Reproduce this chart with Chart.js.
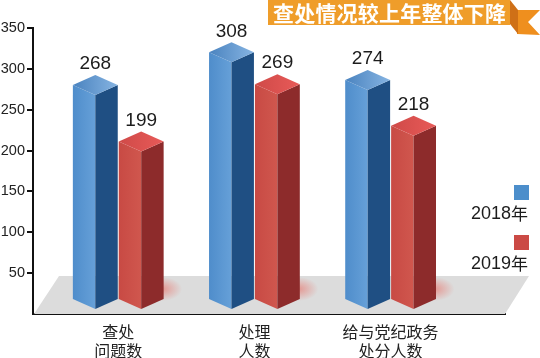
<!DOCTYPE html>
<html><head><meta charset="utf-8">
<style>html,body{margin:0;padding:0;background:#fff}#w{width:540px;height:358px;position:relative}</style>
<script src="https://cdn.jsdelivr.net/npm/chart.js@4"></script></head>
<body><div id="w"><canvas id="c" width="540" height="358"></canvas></div>
<script>
const categories = [["查处","问题数"],["处理","人数"],["给与党纪政务","处分人数"]];
const series2018 = [268,308,274];
const series2019 = [199,269,218];
const seriesNames = ["2018年","2019年"];
const yTicks = [50,100,150,200,250,300,350];
const titleText = "查处情况较上年整体下降";
const CJK = '"Noto Sans CJK SC"', LAT = '"Liberation Sans"';
const palette = [
 {left:['#4f8dcb','#66a0d8'],right:'#1f4f83',top:['#4a83bf','#86b4e2'],swatch:'#4c8ecb'},
 {left:['#c84a44','#d0574e'],right:'#8d2b2b',top:['#cf4a48','#e85a58'],swatch:'#cb4a45'}
];
const bar3d = {id:'bar3d',
 beforeDatasetsDraw(ch){
  const c=ch.ctx,a=ch.chartArea;
  c.save();c.fillStyle='#dcdcdc';c.beginPath();
  c.moveTo(a.left+1,a.bottom);c.lineTo(a.left+26,a.top+248);c.lineTo(a.right+24,a.top+248);c.lineTo(a.right,a.bottom);c.closePath();c.fill();
  const m=ch.getDatasetMeta(1);
  m.data.forEach(b=>{const r=b.x+b.width/2-2,y=b.base-25;
   c.save();c.translate(r,y);c.scale(1,.6);
   const g=c.createRadialGradient(0,0,1,0,0,20);g.addColorStop(0,'rgba(235,90,80,.5)');g.addColorStop(1,'rgba(235,90,80,0)');
   c.fillStyle=g;c.beginPath();c.arc(0,0,20,0,Math.PI*2);c.fill();c.restore();});
  c.restore();
 },
 beforeDatasetDraw(ch,args){
  const c=ch.ctx,meta=args.meta,p=palette[args.index];
  const d=10;
  meta.data.forEach(b=>{
   const w=b.width-1,l=b.x-w/2,r=b.x+w/2,m=b.x,t=b.y,f=b.base-5;
   let g=c.createLinearGradient(l,0,m,0);g.addColorStop(0,p.left[0]);g.addColorStop(1,p.left[1]);
   c.fillStyle=g;c.beginPath();c.moveTo(l,t-d);c.lineTo(m,t);c.lineTo(m,f);c.lineTo(l,f-d);c.closePath();c.fill();
   c.fillStyle=p.right;c.beginPath();c.moveTo(r,t-d);c.lineTo(m,t);c.lineTo(m,f);c.lineTo(r,f-d);c.closePath();c.fill();
   g=c.createLinearGradient(l,0,r,0);g.addColorStop(0,p.top[0]);g.addColorStop(1,p.top[1]);
   c.fillStyle=g;c.beginPath();c.moveTo(l,t-d);c.lineTo(m,t-2*d);c.lineTo(r,t-d);c.lineTo(m,t);c.closePath();c.fill();
  });
  c.save();c.fillStyle='#1c1c1c';c.font='19px '+LAT;c.textAlign='center';c.textBaseline='middle';
  meta.data.forEach((b,i)=>c.fillText(ch.data.datasets[args.index].data[i].y,b.x,b.y-31));
  c.restore();
  return false;
 },
 afterDraw(ch){
  const c=ch.ctx;c.save();
  // ribbon banner
  c.fillStyle='#ef8f1e';c.beginPath();c.moveTo(517,10);c.lineTo(540,10);c.lineTo(528,22);c.lineTo(540,35);c.lineTo(517,34);c.closePath();c.fill();
  c.fillStyle='#cf7017';c.beginPath();c.moveTo(510,0);c.lineTo(518,10);c.lineTo(518,34);c.lineTo(510,24);c.closePath();c.fill();
  c.fillStyle='#ef9d2a';c.fillRect(268,0,242,25);
  c.font='bold 21px '+CJK;c.textAlign='left';c.textBaseline='middle';c.fillStyle='#fff';
  [...titleText].forEach((s,i)=>c.fillText(s,273+i*21.2,13.5));
  // legend
  const lg=[[185,214],[235,264]];
  lg.forEach((v,i)=>{c.fillStyle=palette[i].swatch;c.fillRect(514,v[0],15,15);
   c.fillStyle='#1c1c1c';c.textAlign='left';c.textBaseline='middle';
   c.font='18px '+LAT;const n=seriesNames[i].slice(0,4);c.fillText(n,471,v[1]);
   const tw=c.measureText(n).width;c.font='17px '+CJK;c.fillText(seriesNames[i].slice(4),471+tw,v[1]);});
  c.restore();
 }
};
new Chart(document.getElementById('c'),{
 type:'bar',
 plugins:[bar3d],
 data:{datasets:[
  {label:seriesNames[0],data:series2018.map((y,x)=>({x,y})),backgroundColor:palette[0].swatch},
  {label:seriesNames[1],data:series2019.map((y,x)=>({x,y})),backgroundColor:palette[1].swatch}]},
 options:{
  responsive:false,animation:false,
  layout:{padding:{top:28,right:35,bottom:0,left:0}},
  categoryPercentage:0.674,barPercentage:1,
  plugins:{legend:{display:false},title:{display:false},tooltip:{enabled:false}},
  scales:{
   x:{type:'linear',offset:false,min:-0.626,max:2.84,
    afterBuildTicks(s){s.ticks=categories.map((_,i)=>({value:i}));},
    afterFit(s){s.height=44;},
    grid:{display:false,drawTicks:false},
    border:{display:true,color:'#111',width:2},
    ticks:{autoSkip:false,maxRotation:0,padding:8,color:'#222',font:{family:CJK,size:16,lineHeight:1.2},callback:v=>categories[v]}},
   y:{min:0,max:350,
    afterBuildTicks(s){s.ticks=yTicks.map(value=>({value}));},
    afterFit(s){s.width=33;},
    grid:{display:true,drawOnChartArea:false,drawTicks:true,tickLength:6,color:'#111',lineWidth:2},
    border:{display:true,color:'#111',width:2},
    ticks:{padding:2,color:'#222',font:{family:LAT,size:14.5}}}
  }
 }
});
</script></body></html>
